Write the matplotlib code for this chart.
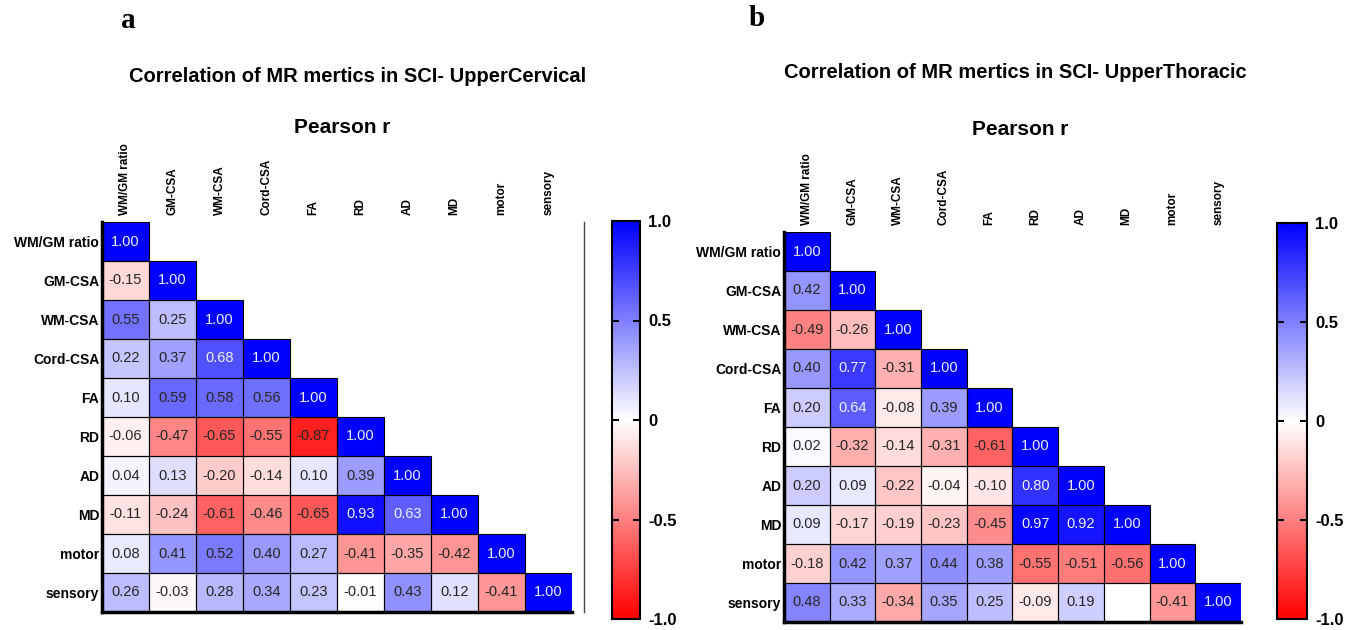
import numpy as np
import matplotlib
matplotlib.use("Agg")
import matplotlib.pyplot as plt
from matplotlib.colors import LinearSegmentedColormap
from matplotlib.patches import Rectangle
from matplotlib.lines import Line2D

plt.rcParams['font.family'] = ['Liberation Sans', 'DejaVu Sans']

# metric names (rows and columns)
metrics = ["WM/GM ratio", "GM-CSA", "WM-CSA", "Cord-CSA", "FA",
           "RD", "AD", "MD", "motor", "sensory"]

# lower-triangle Pearson r, SCI - UpperCervical
r_cervical = [
    [1.00],
    [-0.15, 1.00],
    [0.55, 0.25, 1.00],
    [0.22, 0.37, 0.68, 1.00],
    [0.10, 0.59, 0.58, 0.56, 1.00],
    [-0.06, -0.47, -0.65, -0.55, -0.87, 1.00],
    [0.04, 0.13, -0.20, -0.14, 0.10, 0.39, 1.00],
    [-0.11, -0.24, -0.61, -0.46, -0.65, 0.93, 0.63, 1.00],
    [0.08, 0.41, 0.52, 0.40, 0.27, -0.41, -0.35, -0.42, 1.00],
    [0.26, -0.03, 0.28, 0.34, 0.23, -0.01, 0.43, 0.12, -0.41, 1.00],
]

# lower-triangle Pearson r, SCI - UpperThoracic (None = blank cell)
r_thoracic = [
    [1.00],
    [0.42, 1.00],
    [-0.49, -0.26, 1.00],
    [0.40, 0.77, -0.31, 1.00],
    [0.20, 0.64, -0.08, 0.39, 1.00],
    [0.02, -0.32, -0.14, -0.31, -0.61, 1.00],
    [0.20, 0.09, -0.22, -0.04, -0.10, 0.80, 1.00],
    [0.09, -0.17, -0.19, -0.23, -0.45, 0.97, 0.92, 1.00],
    [-0.18, 0.42, 0.37, 0.44, 0.38, -0.55, -0.51, -0.56, 1.00],
    [0.48, 0.33, -0.34, 0.35, 0.25, -0.09, 0.19, None, -0.41, 1.00],
]

titles = ["Correlation of MR mertics in SCI- UpperCervical",
          "Correlation of MR mertics in SCI- UpperThoracic"]
panel_letters = ["a", "b"]
cbar_ticks = [-1.0, -0.5, 0, 0.5, 1.0]
cbar_ticklabels = ["-1.0", "-0.5", "0", "0.5", "1.0"]

W, H = 1365, 630
cmap = LinearSegmentedColormap.from_list("rwb", ["#ff0000", "#ffffff", "#0000ff"])


def fx(x):
    return x / W


def fy(y):
    return 1 - y / H


def box(x0, y0, x1, y1):
    # pixel box (top-left origin) -> figure fraction rect
    return [x0 / W, 1 - y1 / H, (x1 - x0) / W, (y1 - y0) / H]


def to_matrix(rows):
    n = len(rows)
    mat = np.full((n, n), np.nan)
    drawn = []
    for i, row in enumerate(rows):
        for j, v in enumerate(row):
            drawn.append((i, j))
            if v is not None:
                mat[i, j] = v
    return mat, drawn


def draw_heatmap(ax, rows):
    mat, drawn = to_matrix(rows)
    n = len(metrics)
    mesh = ax.pcolormesh(np.ma.masked_invalid(mat), cmap=cmap, vmin=-1, vmax=1,
                         linewidth=0)
    # cell borders only for the lower triangle (blank cell stays white)
    for (i, j) in drawn:
        ax.add_patch(Rectangle((j, i), 1, 1, facecolor='none',
                               edgecolor='black', linewidth=0.8, zorder=2))
        v = mat[i, j]
        if np.isnan(v):
            continue
        color = '#eeeeff' if v >= 0.6 else '#262626'
        ax.text(j + 0.5, i + 0.5, f"{v:.2f}", ha='center', va='center',
                fontsize=10.5, color=color, zorder=3)
    ax.set_xlim(0, n)
    ax.set_ylim(n, 0)
    ax.xaxis.tick_top()
    ax.set_xticks(np.arange(n) + 0.5)
    ax.set_xticklabels(metrics, rotation=90, fontsize=8.5, fontweight='bold')
    ax.set_yticks(np.arange(n) + 0.5)
    ax.set_yticklabels(metrics, fontsize=10, fontweight='bold')
    ax.tick_params(axis='both', length=0)
    ax.tick_params(axis='x', pad=5)
    ax.tick_params(axis='y', pad=2)
    for side in ('top', 'right'):
        ax.spines[side].set_visible(False)
    for side in ('left', 'bottom'):
        ax.spines[side].set_linewidth(2.5)
        ax.spines[side].set_color('black')
        ax.spines[side].set_zorder(4)
    return mesh


def draw_colorbar(fig, cax, mesh):
    cb = fig.colorbar(mesh, cax=cax, ticks=cbar_ticks)
    cb.ax.set_yticklabels(cbar_ticklabels, fontsize=12, fontweight='bold')
    cb.outline.set_linewidth(1.5)
    cb.ax.tick_params(direction='in', left=True, right=True, length=5, width=1.5, pad=6)
    return cb


fig = plt.figure(figsize=(13.65, 6.3), dpi=100)

# panel a
ax_a = fig.add_axes(box(102, 222, 572, 612))
mesh_a = draw_heatmap(ax_a, r_cervical)
cax_a = fig.add_axes(box(612, 221, 640, 619))
draw_colorbar(fig, cax_a, mesh_a)
fig.add_artist(Line2D([fx(584), fx(584)], [fy(222), fy(612)], color='#444444', lw=1))

# panel b
ax_b = fig.add_axes(box(784, 232, 1241, 622))
mesh_b = draw_heatmap(ax_b, r_thoracic)
cax_b = fig.add_axes(box(1277, 223, 1307, 619))
draw_colorbar(fig, cax_b, mesh_b)

# titles and labels
fig.text(fx(128), fy(20), panel_letters[0], family=['Liberation Serif', 'DejaVu Serif'],
         fontsize=21, fontweight='bold', ha='center', va='center')
fig.text(fx(757), fy(18), panel_letters[1], family=['Liberation Serif', 'DejaVu Serif'],
         fontsize=21, fontweight='bold', ha='center', va='center')
fig.text(fx(358), fy(76), titles[0], fontsize=14.5, fontweight='bold', ha='center', va='center')
fig.text(fx(1015), fy(73), titles[1], fontsize=14.5, fontweight='bold', ha='center', va='center')
fig.text(fx(342), fy(128), "Pearson r", fontsize=15, fontweight='bold', ha='center', va='center')
fig.text(fx(1020), fy(130), "Pearson r", fontsize=15, fontweight='bold', ha='center', va='center')

fig.savefig("out.png", dpi=100)
